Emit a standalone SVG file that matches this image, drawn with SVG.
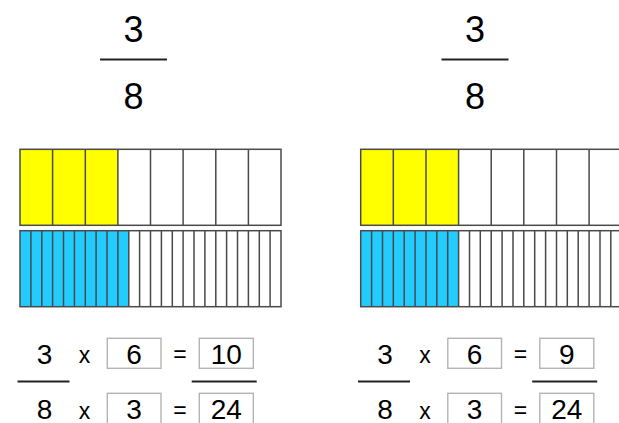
<svg xmlns="http://www.w3.org/2000/svg" width="619" height="423" viewBox="0 0 619 423">
<style>
  text { font-family: "Liberation Sans", Arial, sans-serif; fill: #000; text-anchor: middle; }
  .big { font-size: 36px; }
  .num { font-size: 28px; }
  .op { font-size: 23px; }
  .rule { stroke: #222; stroke-width: 2; }
  .bar { stroke: #4a4a4a; stroke-width: 1.5; fill: none; }
  .div { stroke: #4a4a4a; stroke-width: 1.5; }
  .y { fill: #FFFF00; }
  .b { fill: #22CCFF; }
  .w { fill: #FFFFFF; }
  .box { fill: #fff; stroke: #b4b4b4; stroke-width: 1.4; }
</style>
<rect width="619" height="423" fill="#fff"/>

<!-- LEFT PANEL -->
<g id="left-fraction">
  <text class="big" x="133.5" y="42">3</text>
  <line class="rule" x1="100" y1="59.5" x2="167" y2="59.5"/>
  <text class="big" x="133.5" y="109">8</text>
</g>
<g id="left-eighths">
  <rect class="w" x="20" y="149.3" width="261" height="76"/>
  <rect class="y" x="20" y="149.3" width="97.9" height="76"/>
  <path class="div" d="M52.6 149.3V225.3M85.3 149.3V225.3M117.9 149.3V225.3M150.5 149.3V225.3M183.1 149.3V225.3M215.8 149.3V225.3M248.4 149.3V225.3"/>
  <rect class="bar" x="20" y="149.3" width="261" height="76"/>
</g>
<g id="left-24ths">
  <rect class="w" x="20" y="230.7" width="261" height="76"/>
  <rect class="b" x="20" y="230.7" width="108.75" height="76"/>
  <path class="div" d="M30.9 230.7V306.7M41.8 230.7V306.7M52.6 230.7V306.7M63.5 230.7V306.7M74.4 230.7V306.7M85.3 230.7V306.7M96.1 230.7V306.7M107 230.7V306.7M117.9 230.7V306.7M128.8 230.7V306.7M139.6 230.7V306.7M150.5 230.7V306.7M161.4 230.7V306.7M172.3 230.7V306.7M183.1 230.7V306.7M194 230.7V306.7M204.9 230.7V306.7M215.8 230.7V306.7M226.6 230.7V306.7M237.5 230.7V306.7M248.4 230.7V306.7M259.3 230.7V306.7M270.1 230.7V306.7"/>
  <rect class="bar" x="20" y="230.7" width="261" height="76"/>
</g>
<g id="left-equation">
  <text class="num" x="44.5" y="364">3</text>
  <line class="rule" x1="17.5" y1="381.5" x2="69.5" y2="381.5"/>
  <text class="num" x="44.5" y="419">8</text>
  <text class="op" x="84.5" y="363">x</text>
  <text class="op" x="84.5" y="419">x</text>
  <rect class="box" x="107.3" y="338.3" width="53.7" height="30"/>
  <text class="num" x="134" y="364">6</text>
  <rect class="box" x="107.3" y="393.3" width="53.7" height="40"/>
  <text class="num" x="134" y="419">3</text>
  <text class="op" x="180" y="362">=</text>
  <text class="op" x="180" y="418">=</text>
  <rect class="box" x="199.3" y="338.3" width="54" height="30"/>
  <text class="num" x="226.3" y="364">10</text>
  <line class="rule" x1="191.7" y1="381.5" x2="256.7" y2="381.5"/>
  <rect class="box" x="199.3" y="393.3" width="54" height="40"/>
  <text class="num" x="226.3" y="419">24</text>
</g>

<!-- RIGHT PANEL -->
<g id="right-fraction">
  <text class="big" x="475" y="42">3</text>
  <line class="rule" x1="441.5" y1="59.5" x2="508.5" y2="59.5"/>
  <text class="big" x="475" y="109">8</text>
</g>
<g id="right-eighths" transform="translate(340.7,0)">
  <rect class="w" x="20" y="149.3" width="261" height="76"/>
  <rect class="y" x="20" y="149.3" width="97.9" height="76"/>
  <path class="div" d="M52.6 149.3V225.3M85.3 149.3V225.3M117.9 149.3V225.3M150.5 149.3V225.3M183.1 149.3V225.3M215.8 149.3V225.3M248.4 149.3V225.3"/>
  <rect class="bar" x="20" y="149.3" width="261" height="76"/>
</g>
<g id="right-24ths" transform="translate(340.7,0)">
  <rect class="w" x="20" y="230.7" width="261" height="76"/>
  <rect class="b" x="20" y="230.7" width="97.9" height="76"/>
  <path class="div" d="M30.9 230.7V306.7M41.8 230.7V306.7M52.6 230.7V306.7M63.5 230.7V306.7M74.4 230.7V306.7M85.3 230.7V306.7M96.1 230.7V306.7M107 230.7V306.7M117.9 230.7V306.7M128.8 230.7V306.7M139.6 230.7V306.7M150.5 230.7V306.7M161.4 230.7V306.7M172.3 230.7V306.7M183.1 230.7V306.7M194 230.7V306.7M204.9 230.7V306.7M215.8 230.7V306.7M226.6 230.7V306.7M237.5 230.7V306.7M248.4 230.7V306.7M259.3 230.7V306.7M270.1 230.7V306.7"/>
  <rect class="bar" x="20" y="230.7" width="261" height="76"/>
</g>
<g id="right-equation" transform="translate(340.5,0)">
  <text class="num" x="44.5" y="364">3</text>
  <line class="rule" x1="17.5" y1="381.5" x2="69.5" y2="381.5"/>
  <text class="num" x="44.5" y="419">8</text>
  <text class="op" x="84.5" y="363">x</text>
  <text class="op" x="84.5" y="419">x</text>
  <rect class="box" x="107.3" y="338.3" width="53.7" height="30"/>
  <text class="num" x="134" y="364">6</text>
  <rect class="box" x="107.3" y="393.3" width="53.7" height="40"/>
  <text class="num" x="134" y="419">3</text>
  <text class="op" x="180" y="362">=</text>
  <text class="op" x="180" y="418">=</text>
  <rect class="box" x="199.3" y="338.3" width="54" height="30"/>
  <text class="num" x="226.3" y="364">9</text>
  <line class="rule" x1="191.7" y1="381.5" x2="256.7" y2="381.5"/>
  <rect class="box" x="199.3" y="393.3" width="54" height="40"/>
  <text class="num" x="226.3" y="419">24</text>
</g>
</svg>
